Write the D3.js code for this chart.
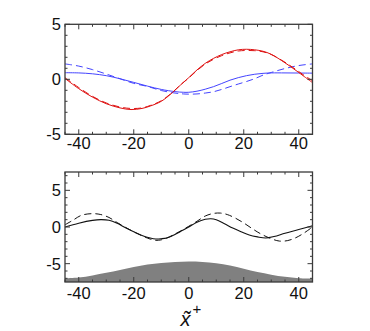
<!DOCTYPE html>
<html>
<head>
<meta charset="utf-8">
<script src="https://cdn.jsdelivr.net/npm/d3@7"></script>
<style>
  body { margin: 0; background: #fff; }
  text { font-family: "Liberation Sans", Arial, sans-serif; }
</style>
</head>
<body>
<div id="chart"></div>
<script>
// Tick values
const xTicks = [-40, -20, 0, 20, 40];
const yTicks = [-5, 0, 5];

// Top panel: red and blue, solid and dashed
const redX = [-45, -40, -35, -30, -25, -21, -17, -14, -10, -6, -3, 0, 3, 6, 9, 12, 15, 18, 21, 24, 27, 30, 35, 39, 42, 45];
const redSolid = [0.08, -0.85, -1.62, -2.22, -2.6, -2.75, -2.65, -2.43, -2.0, -1.22, -0.52, 0.15, 0.85, 1.45, 1.9, 2.25, 2.5, 2.68, 2.73, 2.68, 2.55, 2.27, 1.5, 0.8, 0.25, -0.3];
const redDashed = [0.15, -0.75, -1.55, -2.15, -2.52, -2.65, -2.6, -2.38, -1.95, -1.2, -0.5, 0.12, 0.8, 1.38, 1.82, 2.15, 2.4, 2.57, 2.62, 2.6, 2.5, 2.25, 1.55, 0.88, 0.35, -0.13];

const blueX = [-45, -40, -35, -30, -25, -20, -15, -10, -5, -2, 0, 3, 6, 9, 12, 15, 18, 21, 24, 27, 30, 35, 40, 45];
const blueSolid = [0.6, 0.58, 0.5, 0.33, 0.05, -0.28, -0.62, -0.92, -1.12, -1.18, -1.18, -1.08, -0.9, -0.67, -0.38, -0.08, 0.15, 0.33, 0.46, 0.54, 0.58, 0.58, 0.57, 0.56];
const blueDashed = [1.4, 1.2, 0.88, 0.48, 0.05, -0.37, -0.65, -1.02, -1.25, -1.33, -1.35, -1.33, -1.25, -1.13, -0.92, -0.67, -0.43, -0.2, 0.06, 0.38, 0.62, 0.98, 1.25, 1.4];

// Bottom panel: black solid, black dashed, gray bump
const blackX = [-45, -40, -35, -32, -29, -26, -23, -20, -17, -14, -12, -10, -8, -6, -3, 0, 3, 6, 8, 10, 13, 16, 19, 22, 25, 28, 31, 35, 40, 45];
const blackSolid = [0, 0.52, 0.9, 1.0, 0.92, 0.5, -0.1, -0.65, -1.15, -1.5, -1.63, -1.6, -1.5, -1.2, -0.6, 0.0, 0.66, 1.05, 1.13, 1.0, 0.45, -0.15, -0.65, -1.1, -1.35, -1.5, -1.3, -0.85, -0.35, 0.18];
const dashX = [-45, -42, -39, -35, -32, -29, -26, -23, -20, -17, -14, -12, -10, -8, -6, -3, 0, 3, 6, 9, 11.5, 14, 17, 20, 23, 26, 30, 33, 36, 39, 42, 45];
const blackDashed = [0.3, 0.95, 1.6, 1.82, 1.7, 1.3, 0.6, -0.05, -0.65, -1.2, -1.65, -1.82, -1.75, -1.5, -1.15, -0.55, 0.1, 0.78, 1.5, 1.85, 1.9, 1.7, 1.2, 0.55, -0.2, -0.9, -1.6, -1.92, -1.85, -1.45, -0.8, 0.0];

const wallX = [-45, -40, -35, -30, -25, -20, -15, -10, -5, 0, 5, 10, 15, 20, 25, 30, 35, 40, 45];
const wall = [-7.0, -6.9, -6.6, -6.25, -5.85, -5.45, -5.1, -4.9, -4.78, -4.72, -4.78, -4.95, -5.25, -5.7, -6.15, -6.5, -6.8, -7.0, -7.05];

const width = 370, height = 331;
const frameColor = "#3a3a3a";

const svg = d3.select("#chart").append("svg")
    .attr("width", width)
    .attr("height", height);

const x = d3.scaleLinear().domain([-45, 45]).range([65, 312.5]);

function zip(xs, ys) {
    return xs.map((v, i) => ({ x: v, y: ys[i] }));
}

function panel(top, bottom, yDomain, id, labelGap) {
    const y = d3.scaleLinear().domain(yDomain).range([bottom, top]);
    const g = svg.append("g");

    g.append("clipPath").attr("id", id)
        .append("rect")
        .attr("x", x.range()[0]).attr("y", top)
        .attr("width", x.range()[1] - x.range()[0]).attr("height", bottom - top);

    const plot = g.append("g").attr("clip-path", `url(#${id})`);

    // minor + major ticks, inward on all sides
    const xMinor = d3.range(-45, 46, 5);
    const yMinor = d3.range(Math.ceil(yDomain[0]), Math.floor(yDomain[1]) + 1);
    const ticks = g.append("g").attr("stroke", frameColor).attr("stroke-width", 1);
    xMinor.forEach(v => {
        const len = v % 20 === 0 ? 5 : 2.5;
        ticks.append("line").attr("x1", x(v)).attr("x2", x(v)).attr("y1", bottom).attr("y2", bottom - len);
        ticks.append("line").attr("x1", x(v)).attr("x2", x(v)).attr("y1", top).attr("y2", top + len);
    });
    yMinor.forEach(v => {
        const len = v % 5 === 0 ? 5 : 2.5;
        ticks.append("line").attr("x1", x.range()[0]).attr("x2", x.range()[0] + len).attr("y1", y(v)).attr("y2", y(v));
        ticks.append("line").attr("x1", x.range()[1]).attr("x2", x.range()[1] - len).attr("y1", y(v)).attr("y2", y(v));
    });

    // tick labels
    g.selectAll(".xl").data(xTicks).enter().append("text")
        .attr("x", d => x(d))
        .attr("y", bottom + labelGap)
        .attr("text-anchor", "middle")
        .attr("font-size", 16.5)
        .attr("fill", "#111")
        .text(d => d);
    g.selectAll(".yl").data(yTicks).enter().append("text")
        .attr("x", 61)
        .attr("y", d => y(d) + 6)
        .attr("text-anchor", "end")
        .attr("font-size", 16.5)
        .attr("fill", "#111")
        .text(d => d);

    return { g, plot, y, top, bottom };
}

const line = y => d3.line().x(d => x(d.x)).y(d => y(d.y)).curve(d3.curveCatmullRom);

// Top panel
const p1 = panel(24.3, 134.3, [-5, 5], "clipTop", 15);
[
    { xs: blueX, ys: blueSolid, c: "#4444ff", dash: null },
    { xs: blueX, ys: blueDashed, c: "#4444ff", dash: "7,4" },
    { xs: redX, ys: redSolid, c: "#dd1111", dash: null },
    { xs: redX, ys: redDashed, c: "#dd1111", dash: "7,4" }
].forEach(s => {
    p1.plot.append("path")
        .datum(zip(s.xs, s.ys))
        .attr("fill", "none")
        .attr("stroke", s.c)
        .attr("stroke-width", 1)
        .attr("stroke-dasharray", s.dash)
        .attr("d", line(p1.y));
});

// Bottom panel
const p2 = panel(172, 282, [-7.5, 7.5], "clipBot", 17);
p2.plot.append("path")
    .datum(zip(wallX, wall))
    .attr("fill", "#808080")
    .attr("d", d3.area().x(d => x(d.x)).y0(p2.y(-7.5)).y1(d => p2.y(d.y)).curve(d3.curveCatmullRom));
p2.plot.append("path")
    .datum(zip(blackX, blackSolid))
    .attr("fill", "none").attr("stroke", "#111").attr("stroke-width", 1.1)
    .attr("d", line(p2.y));
p2.plot.append("path")
    .datum(zip(dashX, blackDashed))
    .attr("fill", "none").attr("stroke", "#111").attr("stroke-width", 1)
    .attr("stroke-dasharray", "7,4")
    .attr("d", line(p2.y));

// frames on top
[p1, p2].forEach(p => {
    p.g.append("rect")
        .attr("x", x.range()[0]).attr("y", p.top)
        .attr("width", x.range()[1] - x.range()[0]).attr("height", p.bottom - p.top)
        .attr("fill", "none").attr("stroke", frameColor).attr("stroke-width", 1.3);
});

// x-axis title
const title = svg.append("text")
    .attr("x", 191)
    .attr("y", 326)
    .attr("text-anchor", "middle")
    .attr("font-family", "'DejaVu Serif', serif")
    .attr("font-size", 20)
    .attr("fill", "#111");
title.append("tspan").attr("font-style", "italic").text("x\u0303");
title.append("tspan").attr("dy", -12).attr("dx", 2).attr("font-size", 15).attr("font-family", "'Liberation Sans', sans-serif").text("+");
</script>
</body>
</html>
